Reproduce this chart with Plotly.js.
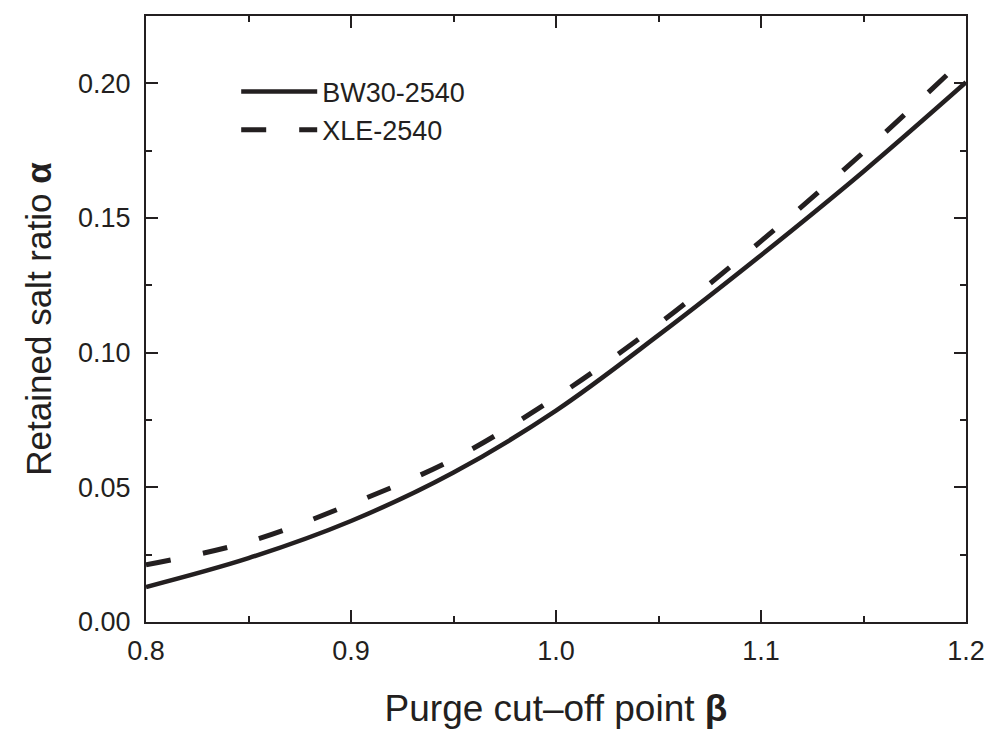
<!DOCTYPE html>
<html>
<head>
<meta charset="utf-8">
<script src="https://cdn.plot.ly/plotly-3.0.1.min.js"></script>
<style>html,body{margin:0;padding:0;background:#fff;}#chart{width:996px;height:733px;}</style>
</head>
<body>
<div id="chart"></div>
<script>
var beta = [0.80, 0.85, 0.90, 0.95, 1.00, 1.05, 1.10, 1.15, 1.20];
var bw30 = [0.0130, 0.0237, 0.0375, 0.0555, 0.0785, 0.1065, 0.1362, 0.1673, 0.2004];
var xle  = [0.0212, 0.0298, 0.0438, 0.0605, 0.0835, 0.1106, 0.1414, 0.1744, 0.2098];
var xTicks = [0.8, 0.9, 1.0, 1.1, 1.2];
var xTickText = ['0.8', '0.9', '1.0', '1.1', '1.2'];
var yTicks = [0.00, 0.05, 0.10, 0.15, 0.20];
var yTickText = ['0.00', '0.05', '0.10', '0.15', '0.20'];
var names = ['BW30-2540', 'XLE-2540'];

var ink = '#231f20';
var fam = 'Liberation Sans, Arial, sans-serif';
var traces = [
  {x: beta, y: bw30, name: names[0], mode: 'lines', line: {color: ink, width: 4.5, shape: 'spline'}},
  {x: beta, y: xle, name: names[1], mode: 'lines', line: {color: ink, width: 5, dash: '25px,33px', shape: 'spline'}}
];
var axisCommon = {
  showline: true, linecolor: ink, linewidth: 2, mirror: 'ticks',
  ticks: 'inside', ticklen: 12, tickwidth: 2, tickcolor: ink,
  showgrid: false, zeroline: false,
  tickfont: {family: fam, size: 27, color: ink},
  minor: {ticks: 'inside', ticklen: 6, tickwidth: 2, tickcolor: ink, showgrid: false}
};
var layout = {
  width: 996, height: 733,
  margin: {l: 146, r: 30, t: 16, b: 111},
  paper_bgcolor: '#fff', plot_bgcolor: '#fff',
  showlegend: true,
  legend: {x: 0.11, y: 0.915, xanchor: 'left', yanchor: 'top', bgcolor: 'rgba(0,0,0,0)',
           font: {family: fam, size: 27, color: ink},
           itemwidth: 76, tracegroupgap: 0},
  xaxis: Object.assign({}, axisCommon, {
    range: [0.8, 1.2], tickvals: xTicks, ticktext: xTickText,
    minor: Object.assign({}, axisCommon.minor, {dtick: 0.05, tick0: 0.8}),
    ticklabelstandoff: 4,
    title: {text: 'Purge cut\u2013off point <b>\u03b2</b>', standoff: 30,
            font: {family: fam, size: 37, color: ink}}
  }),
  yaxis: Object.assign({}, axisCommon, {
    range: [0, 0.225], tickvals: yTicks, ticktext: yTickText,
    minor: Object.assign({}, axisCommon.minor, {dtick: 0.025, tick0: 0}),
    ticklabelstandoff: 8,
    title: {text: 'Retained salt ratio <b>\u03b1</b>', standoff: 16,
            font: {family: fam, size: 35, color: ink}}
  })
};
Plotly.newPlot('chart', traces, layout, {displayModeBar: false, staticPlot: true});
</script>
</body>
</html>
